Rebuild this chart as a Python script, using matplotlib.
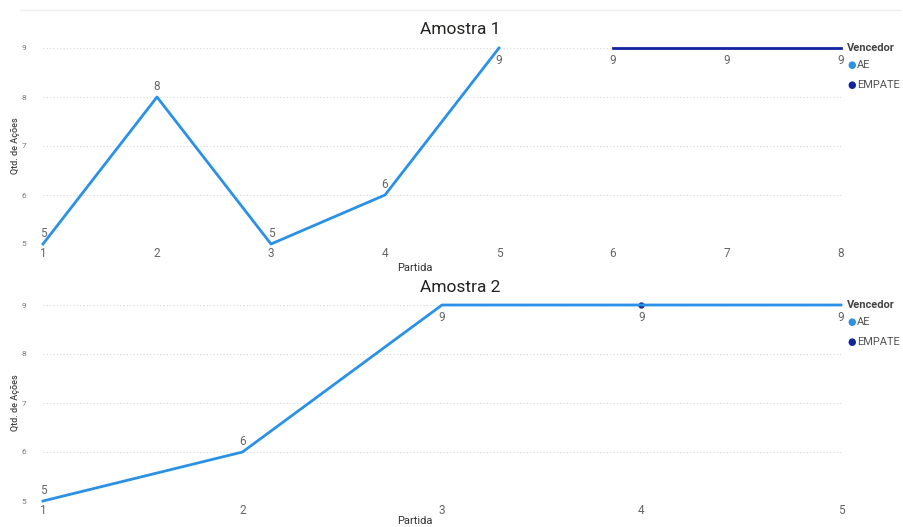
import matplotlib
matplotlib.use('Agg')
import matplotlib.pyplot as plt

plt.rcParams['font.family'] = ['Roboto', 'DejaVu Sans']

# Amostra 1
partida_1 = [1, 2, 3, 4, 5, 6, 7, 8]
acoes_1 = [5, 8, 5, 6, 9, 9, 9, 9]
vencedor_1 = ['AE', 'AE', 'AE', 'AE', 'AE', 'EMPATE', 'EMPATE', 'EMPATE']

# Amostra 2
partida_2 = [1, 2, 3, 4, 5]
acoes_2 = [5, 6, 9, 9, 9]
vencedor_2 = ['AE', 'AE', 'AE', 'EMPATE', 'AE']

series_names = ['AE', 'EMPATE']
yticks = [5, 6, 7, 8, 9]

cores = {'AE': '#2B91E6', 'EMPATE': '#12239E'}
W, H = 904, 527


def px_axes(fig, left, right, top, bottom):
    return fig.add_axes([left / W, 1 - bottom / H, (right - left) / W, (bottom - top) / H])


def draw_panel(fig, ax, x, y, venc, titulo, top_px, bottom_px, xlabel_px):
    for s in series_names:
        xs = [a for a, v in zip(x, venc) if v == s]
        ys = [b for b, v in zip(y, venc) if v == s]
        if len(xs) == 1:
            ax.plot(xs, ys, 'o', color=cores[s], ms=3.5, clip_on=False, zorder=2)
        elif xs:
            ax.plot(xs, ys, color=cores[s], lw=2, clip_on=False, zorder=3)

    # data labels: above unless at the top
    for a, b in zip(x, y):
        if b >= max(yticks):
            ax.annotate(str(b), (a, b), xytext=(0, -4), textcoords='offset points',
                        ha='center', va='top', fontsize=8.5, color='#666666')
        else:
            ax.annotate(str(b), (a, b), xytext=(0, 3), textcoords='offset points',
                        ha='center', va='bottom', fontsize=8.5, color='#666666')

    ax.set_xlim(min(x), max(x))
    ax.set_ylim(min(yticks), max(yticks))
    ax.set_xticks(x)
    ax.set_yticks(yticks)
    ax.tick_params(axis='x', length=0, labelsize=8.5, labelcolor='#666666', pad=2)
    ax.tick_params(axis='y', length=0, labelsize=6, labelcolor='#777777', pad=12)
    ax.grid(axis='y', color='#d6d6d6', linestyle=(0, (1, 2)), lw=0.8)
    for sp in ax.spines.values():
        sp.set_visible(False)
    ax.set_axisbelow(True)

    mid = (top_px + bottom_px) / 2
    fig.text(460 / W, 1 - (top_px - 18) / H, titulo, ha='center', va='center',
             fontsize=12.5, color='#252423')
    fig.text(15 / W, 1 - mid / H, 'Qtd. de Ações', rotation=90, ha='center',
             va='center', fontsize=6.5, fontweight='medium', color='#444444')
    fig.text(415 / W, 1 - xlabel_px / H, 'Partida', ha='center', va='center',
             fontsize=8, color='#333333')

    # legend
    fig.text(847 / W, 1 - top_px / H, 'Vencedor', ha='left', va='center',
             fontsize=8, fontweight='bold', color='#444444')
    for i, s in enumerate(series_names):
        yy = top_px + 17 + i * 20
        fig.text(847 / W, 1 - yy / H, '\u25cf', ha='left', va='center',
                 fontsize=7, color=cores[s], family='DejaVu Sans')
        fig.text(857 / W, 1 - yy / H, s, ha='left', va='center',
                 fontsize=8, color='#555555')


fig = plt.figure(figsize=(W / 100, H / 100), dpi=100)
fig.patch.set_facecolor('white')

# thin separator at the top
fig.add_artist(plt.Line2D([20 / W, 900 / W], [1 - 10 / H, 1 - 10 / H],
                          color='#eeeeee', lw=1))

ax1 = px_axes(fig, 43, 841, 48, 244)
draw_panel(fig, ax1, partida_1, acoes_1, vencedor_1, 'Amostra 1', 48, 244, 268)

ax2 = px_axes(fig, 43, 841, 305, 501)
draw_panel(fig, ax2, partida_2, acoes_2, vencedor_2, 'Amostra 2', 305, 501, 521)

fig.savefig('out.png', dpi=100)
